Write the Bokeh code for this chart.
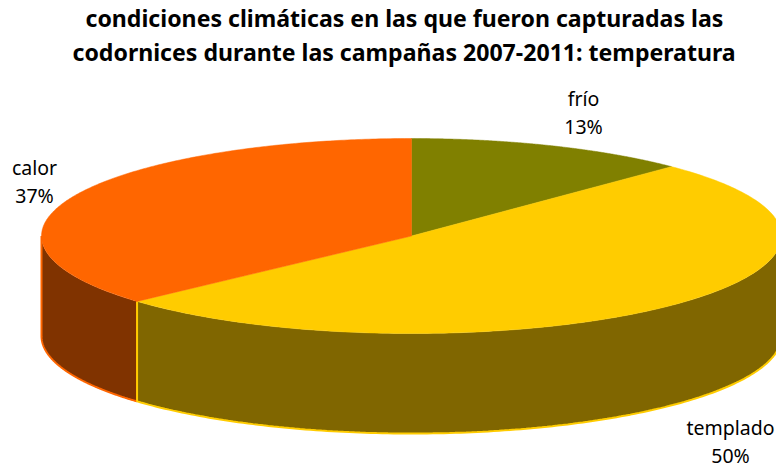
import numpy as np
from bokeh.embed import file_html
from bokeh.resources import INLINE
from bokeh.plotting import figure
from bokeh.models import Range1d, Title
from bokeh.core.properties import value

title_lines = ["condiciones climáticas en las que fueron capturadas las",
               "codornices durante las campañas 2007-2011: temperatura"]
categories = ["frío", "templado", "calor"]
shares = [12.4, 50.9, 36.7]
share_labels = ["13%", "50%", "37%"]
top_colors = ["#808000", "#FFCC00", "#FF6600"]
side_colors = ["#808000", "#806600", "#803300"]
edge_colors = ["#808000", "#FFCC00", "#FF6600"]

CX, CY, RX, RY, DEPTH = 411.0, 235.5, 370.0, 97.5, 100.0
W, H = 776, 466
TITLE_H = 70

label_x = [583, 730, 34]
label_y = [112, 441, 181]

def ell(a, dy=0.0):
    return CX + RX * np.sin(a), CY - RY * np.cos(a) + dy

p = figure(width=W, height=H, output_backend="svg", toolbar_location=None,
           x_axis_type=None, y_axis_type=None,
           x_range=Range1d(0, W), y_range=Range1d(H, TITLE_H),
           min_border=0, min_border_top=TITLE_H, outline_line_color=None,
           background_fill_color="white", border_fill_color="white")
p.grid.visible = False
p.title = None
for line, off, gap in zip(title_lines[::-1], [72, 85], [5, -5]):
    p.add_layout(Title(text=line, text_font="Noto Sans", text_font_style="bold",
                       text_font_size="23.1px", text_color="black", align="left",
                       offset=off, standoff=gap), "above")

frac = np.array(shares) / sum(shares)
edges = np.concatenate([[0.0], np.cumsum(frac)]) * 2 * np.pi

for i in [2, 1, 0]:
    a0 = max(edges[i], np.pi / 2)
    a1 = min(edges[i + 1], 3 * np.pi / 2)
    if a1 <= a0:
        continue
    t = np.linspace(a0, a1, 160)
    xt, yt = ell(t)
    xb, yb = ell(t, DEPTH)
    p.patch(np.r_[xt, xb[::-1]], np.r_[yt, yb[::-1]],
            fill_color=side_colors[i], line_color=None)
    p.line(np.r_[xb[0], xb, xb[-1]], np.r_[yt[0], yb, yt[-1]],
           line_color=edge_colors[i], line_width=2)

for i in range(3):
    t = np.linspace(edges[i], edges[i + 1], 240)
    x, y = ell(t)
    p.patch(np.r_[CX, x], np.r_[CY, y], fill_color=top_colors[i],
            line_color=top_colors[i], line_width=0.5)

p.text(x=label_x, y=label_y,
       text=[f"{c}\n{s}" for c, s in zip(categories, share_labels)],
       text_font=value("Noto Sans"), text_font_size="19.5px",
       text_align="center", text_baseline="middle", text_color="black",
       text_line_height=1.05)

open("out.html", "w").write(file_html(p, INLINE))
